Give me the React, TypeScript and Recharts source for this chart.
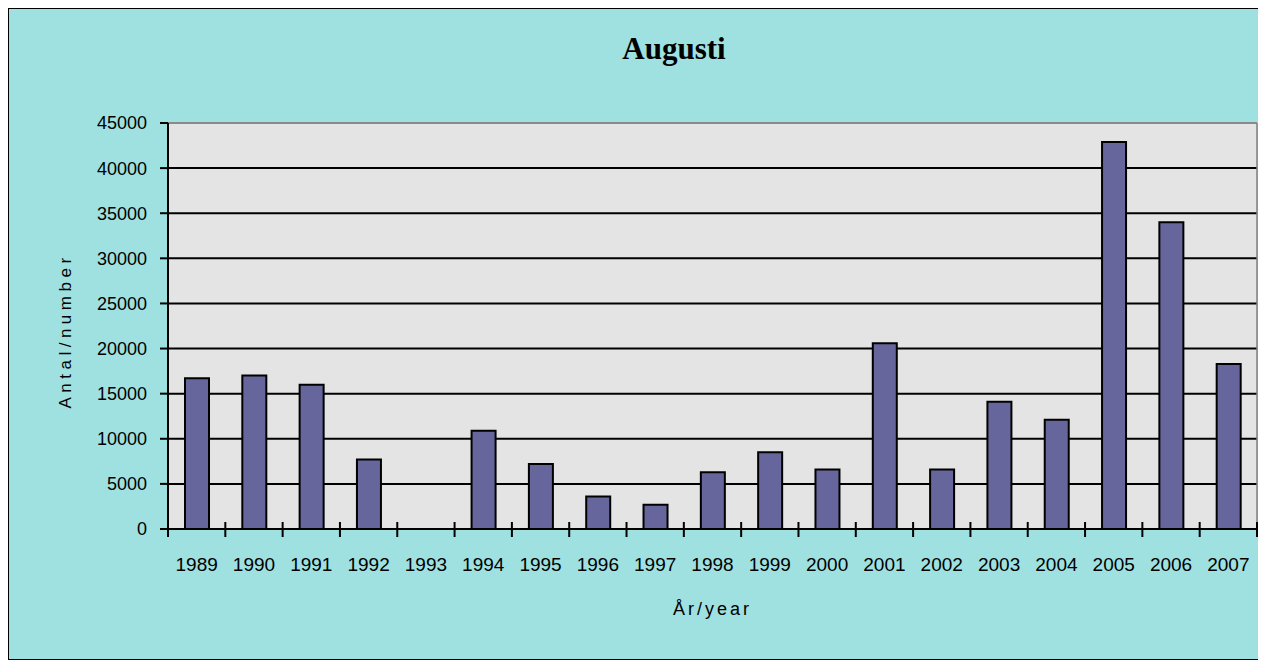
import React from "react";
import { BarChart, Bar, XAxis, YAxis, CartesianGrid, ReferenceLine } from "recharts";

const years = ["1989","1990","1991","1992","1993","1994","1995","1996","1997","1998","1999","2000","2001","2002","2003","2004","2005","2006","2007"];
const counts = [16700, 17000, 16000, 7700, 0, 10900, 7200, 3600, 2700, 6300, 8500, 6600, 20600, 6600, 14100, 12100, 42900, 34000, 18300];
const yTicks = [0, 5000, 10000, 15000, 20000, 25000, 30000, 35000, 40000, 45000];

const title = "Augusti";
const xTitle = "År/year";
const yTitle = "Antal/number";

const data = years.map((y, i) => ({ year: y, value: counts[i] }));

const CHART_W = 1256;
const CHART_H = 650;
const PLOT_LEFT = 159;
const PLOT_RIGHT_MARGIN = 8;
const FONT = "'Liberation Sans', Arial, sans-serif";

const XTick = (props: any) => {
  const { x, y, payload, index } = props;
  const half =
    payload && typeof payload.offset === "number" && payload.offset > 0
      ? payload.offset
      : (CHART_W - PLOT_LEFT - PLOT_RIGHT_MARGIN) / years.length / 2;
  return (
    <g>
      <line x1={x - half} x2={x - half} y1={y - 7} y2={y + 8} stroke="#000" strokeWidth={2} />
      {index === years.length - 1 && (
        <line x1={x + half} x2={x + half} y1={y - 7} y2={y + 8} stroke="#000" strokeWidth={2} />
      )}
      <text x={x} y={y + 42} textAnchor="middle" fontFamily={FONT} fontSize={19} fill="#000">
        {payload.value}
      </text>
    </g>
  );
};

export default function App() {
  return (
    <div
      style={{
        position: "relative",
        width: 1258,
        height: 652,
        background: "#9FE0E0",
        border: "1px solid #000",
        boxSizing: "border-box",
      }}
    >
      <div
        style={{
          position: "absolute",
          left: 0,
          width: 1330,
          top: 22,
          textAlign: "center",
          fontFamily: "'Liberation Serif', 'Times New Roman', serif",
          fontWeight: "bold",
          fontSize: 31,
          lineHeight: "36px",
          color: "#000",
        }}
      >
        {title}
      </div>
      <div style={{ position: "absolute", left: 0, top: 0 }}>
        <BarChart
          width={CHART_W}
          height={CHART_H}
          data={data}
          margin={{ top: 114, right: 0, left: 0, bottom: 70 }}
          barSize={24}
        >
          <CartesianGrid
            yAxisId="left"
            horizontal
            vertical={false}
            stroke="#000"
            strokeWidth={2}
            fill="#E4E4E4"
            fillOpacity={1}
          />
          <XAxis
            dataKey="year"
            height={60}
            tickLine={false}
            tickSize={0}
            tickMargin={0}
            axisLine={{ stroke: "#000", strokeWidth: 2 }}
            tick={<XTick />}
            interval={0}
            label={{
              content: () => (
                <text
                  x={(PLOT_LEFT + CHART_W - PLOT_RIGHT_MARGIN) / 2}
                  y={606}
                  textAnchor="middle"
                  fontFamily={FONT}
                  fontSize={18}
                  letterSpacing={3}
                  fill="#000"
                >
                  {xTitle}
                </text>
              ),
            }}
          />
          <YAxis
            yAxisId="left"
            width={PLOT_LEFT}
            domain={[0, 45000]}
            ticks={yTicks}
            interval={0}
            tickSize={8}
            tickMargin={13}
            tickLine={{ stroke: "#000", strokeWidth: 2 }}
            axisLine={{ stroke: "#000", strokeWidth: 2 }}
            tick={{ fontFamily: FONT, fontSize: 18, fill: "#000" }}
            label={{
              content: () => (
                <text
                  transform="translate(62,322) rotate(-90)"
                  textAnchor="middle"
                  fontFamily={FONT}
                  fontSize={17}
                  letterSpacing={4.5}
                  fill="#000"
                >
                  {yTitle}
                </text>
              ),
            }}
          />
          <YAxis
            yAxisId="right"
            orientation="right"
            width={PLOT_RIGHT_MARGIN}
            domain={[0, 45000]}
            ticks={yTicks}
            tick={false}
            tickLine={false}
            axisLine={{ stroke: "#808080", strokeWidth: 1.5 }}
          />
          <ReferenceLine yAxisId="left" y={45000} stroke="#8A8A8A" strokeWidth={2} />
          <Bar
            yAxisId="left"
            dataKey="value"
            fill="#66669C"
            stroke="#000"
            strokeWidth={2}
            isAnimationActive={false}
          />
        </BarChart>
      </div>
    </div>
  );
}
